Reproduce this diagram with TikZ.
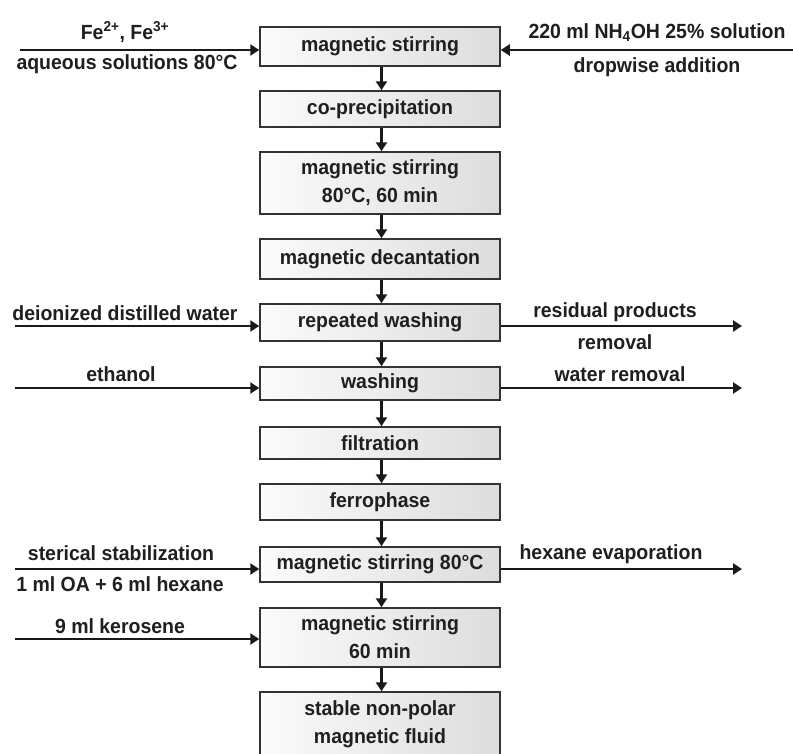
\documentclass[tikz,border=0pt]{standalone}
\usepackage{fontspec}
\setmainfont{Liberation Sans}[FakeStretch=0.95]
\usetikzlibrary{arrows.meta,calc}
\tikzset{
  box/.style={draw=black!80, line width=1.5pt, left color=gray!3, right color=gray!27,
    minimum width=240pt, inner sep=0pt, align=center,
    font=\fontsize{20.5}{28}\selectfont\bfseries, text=black!88},
  lbl/.style={font=\fontsize{20.5}{24}\selectfont\bfseries, text=black!88, inner sep=0pt},
  arr/.style={line width=2.6pt, draw=black!90, -{Triangle[length=9pt,width=11pt]}},
}
\begin{document}
\begin{tikzpicture}[x=1pt,y=-1pt]
\fill[white] (0,0) rectangle (793,753);
\useasboundingbox (0,0) rectangle (793,753);

% process boxes
\node[box, minimum height=39pt] (b1) at (380,46.5) {magnetic stirring};
\node[box, minimum height=36pt] (b2) at (380,109) {co-precipitation};
\node[box, minimum height=62pt] (b3) at (380,183) {magnetic stirring\\80°C, 60 min};
\node[box, minimum height=40pt] (b4) at (380,259) {magnetic decantation};
\node[box, minimum height=37pt] (b5) at (380,322.5) {repeated washing};
\node[box, minimum height=33pt] (b6) at (380,383.5) {washing};
\node[box, minimum height=32pt] (b7) at (380,443) {filtration};
\node[box, minimum height=36pt] (b8) at (380,502) {ferrophase};
\node[box, minimum height=35pt] (b9) at (380,564.5) {magnetic stirring 80°C};
\node[box, minimum height=59pt] (b10) at (380,637.5) {magnetic stirring\\60 min};
\node[box, minimum height=64pt] (b11) at (380,724) {stable non-polar\\magnetic fluid};

% vertical connectors
\foreach \a/\b in {b1/b2,b2/b3,b3/b4,b4/b5,b5/b6,b6/b7,b7/b8,b8/b9,b9/b10,b10/b11}{
  \draw[arr] ([xshift=1.5pt]\a.south) -- ([xshift=1.5pt]\b.north);
}

% side inputs / outputs
\coordinate (i1) at (20,50);
\coordinate (o1) at (793,50);
\coordinate (i5) at (15,326);
\coordinate (o5) at (742,326);
\coordinate (i6) at (15,388);
\coordinate (o6) at (742,388);
\coordinate (i9) at (15,569);
\coordinate (o9) at (742,569);
\coordinate (i10) at (15,639);

\draw[arr] (i1) -- (i1 -| b1.west);
\draw[arr] (o1) -- (o1 -| b1.east);
\draw[arr] (i5) -- (i5 -| b5.west);
\draw[arr] (o5 -| b5.east) -- (o5);
\draw[arr] (i6) -- (i6 -| b6.west);
\draw[arr] (o6 -| b6.east) -- (o6);
\draw[arr] (i9) -- (i9 -| b9.west);
\draw[arr] (o9 -| b9.east) -- (o9);
\draw[arr] (i10) -- (i10 -| b10.west);

% labels
\node[lbl] (l1a) at (125,32) {Fe\textsuperscript{2+}, Fe\textsuperscript{3+}};
\node[lbl] (l1b) at (127,64) {aqueous solutions 80°C};
\node[lbl] (r1a) at (657,33) {220 ml NH\textsubscript{4}OH 25\% solution};
\node[lbl] (r1b) at (657,67) {dropwise addition};
\node[lbl] (l5) at (125,313) {deionized distilled water};
\node[lbl] (r5a) at (615,312) {residual products};
\node[lbl] (r5b) at (615,342) {removal};
\node[lbl] (l6) at (121,374) {ethanol};
\node[lbl] (r6) at (620,374) {water removal};
\node[lbl] (l9a) at (121,553) {sterical stabilization};
\node[lbl] (l9b) at (120,584) {1 ml OA + 6 ml hexane};
\node[lbl] (r9) at (611,554) {hexane evaporation};
\node[lbl] (l10) at (120,626) {9 ml kerosene};
\end{tikzpicture}
\end{document}
